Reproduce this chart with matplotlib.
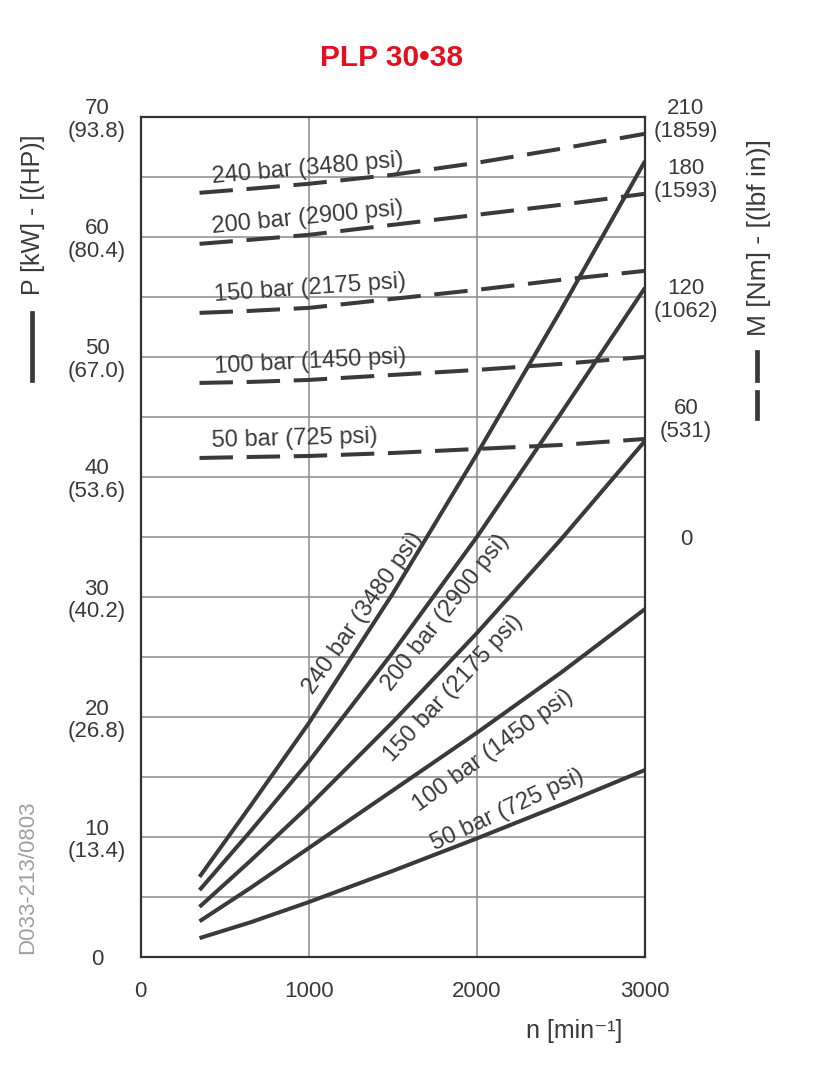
import matplotlib
matplotlib.use("Agg")
import matplotlib.pyplot as plt
from matplotlib.lines import Line2D

# ---------------- data ----------------
speed = [350, 650, 1000, 1500, 2000, 2500, 3000]          # n [min-1]
pressures = ["240 bar (3480 psi)", "200 bar (2900 psi)", "150 bar (2175 psi)",
             "100 bar (1450 psi)", "50 bar (725 psi)"]
# power P [kW]
power_240 = [6.7, 12.55, 19.5, 30.3, 41.9, 53.9, 66.3]
power_200 = [5.6, 10.45, 16.3, 25.4, 35.0, 45.3, 55.75]
power_150 = [4.2, 8.0, 12.6, 19.6, 27.0, 34.8, 43.0]
power_100 = [3.0, 5.75, 9.1, 13.9, 18.7, 23.7, 29.0]
power_50 = [1.6, 2.9, 4.6, 7.2, 9.9, 12.7, 15.6]
# torque M [Nm]
torque_240 = [172, 174, 176.5, 181, 187, 194, 201.5]
torque_200 = [146.5, 148.5, 151, 156, 161, 166, 171.5]
torque_150 = [112, 113, 114.5, 119, 123.5, 128.5, 133]
torque_100 = [77, 77.5, 78.5, 81, 83.5, 86.5, 90]
torque_50 = [39.5, 40, 40.5, 42, 44, 46, 49]

x_ticks = [0, 1000, 2000, 3000]
p_ticks = [0, 10, 20, 30, 40, 50, 60, 70]
p_labels = ["0", "10\n(13.4)", "20\n(26.8)", "30\n(40.2)", "40\n(53.6)",
            "50\n(67.0)", "60\n(80.4)", "70\n(93.8)"]
m_ticks = [0, 60, 120, 180, 210]
m_labels = ["0", "60\n(531)", "120\n(1062)", "180\n(1593)", "210\n(1859)"]

title = "PLP 30•38"
code = "D033-213/0803"

# ---------------- fonts ----------------
FAM = ["Liberation Sans", "DejaVu Sans"]
plt.rcParams["font.family"] = FAM

INK = "#3a3a3a"
GRID = "#8c8c8c"
FS = 16

fig = plt.figure(figsize=(8.36, 10.8), dpi=100)
ax = fig.add_axes([0.1683, 0.1136, 0.6032, 0.7783])
ax.set_xlim(0, 3000)
ax.set_ylim(0, 70)

# grid
ax.set_yticks(range(0, 75, 5))
ax.set_yticklabels([p_labels[p_ticks.index(v)] if v in p_ticks else "" for v in range(0, 75, 5)])
ax.set_xticks(x_ticks)
ax.set_xticklabels([str(v) for v in x_ticks])
ax.grid(True, color=GRID, lw=1.1, zorder=0)
ax.tick_params(axis="y", length=0, pad=31.5, labelsize=FS, colors=INK)
ax.tick_params(axis="x", length=0, pad=17, labelsize=FS, colors=INK)
for t in ax.get_yticklabels():
    t.set_ha("center")
    t.set_multialignment("center")
    t.set_linespacing(1.1)
for s in ax.spines.values():
    s.set_color("#333333")
    s.set_linewidth(1.6)
    s.set_zorder(5)

# power curves (solid)
powers = [power_240, power_200, power_150, power_100, power_50]
for pw in powers:
    ax.plot(speed, pw, color=INK, lw=2.9, solid_capstyle="butt",
            solid_joinstyle="round", zorder=3)

# torque curves on right axis (dashed)
ax2 = ax.twinx()
ax2.set_ylim(-210, 210)
ax2.set_yticks(m_ticks)
ax2.set_yticklabels(m_labels)
ax2.tick_params(axis="y", length=0, pad=29.5, labelsize=FS, colors=INK)
for t in ax2.get_yticklabels():
    t.set_ha("center")
    t.set_multialignment("center")
    t.set_linespacing(1.1)
for s in ax2.spines.values():
    s.set_visible(False)
torques = [torque_240, torque_200, torque_150, torque_100, torque_50]
for tq in torques:
    ax2.plot(speed, tq, color=INK, lw=2.9, linestyle=(0, (8.3, 3.4)),
             dash_capstyle="butt", zorder=3)

# labels on solid curves
solid_lab = [(1323, 28.7, 55), (1811, 28.7, 52), (1858, 22.4, 47),
             (2096, 17.2, 36), (2180, 12.3, 25)]
for txt, (xx, yy, rot) in zip(pressures, solid_lab):
    ax.text(xx, yy, txt, rotation=rot, rotation_mode="anchor", ha="center",
            va="center", fontsize=17, color=INK, zorder=4)

# labels on dashed curves
dash_lab = [(991, 65.7, 5), (991, 61.6, 5.5), (1009, 55.7, 4),
            (1009, 49.6, 3), (914, 43.2, 1.5)]
for txt, (xx, yy, rot) in zip(pressures, dash_lab):
    ax.text(xx, yy, txt, rotation=rot, rotation_mode="anchor", ha="center",
            va="center", fontsize=17, color=INK, zorder=4)

# title
fig.text(392 / 836, 1 - 58 / 1080, title, ha="center", va="center",
         fontsize=21.5, fontweight="bold", color="#e3101f")

# axis titles
fig.text(33 / 836, 1 - 215 / 1080, "P [kW] - [(HP)]", rotation=90, ha="center",
         va="center", fontsize=18, color=INK)
fig.add_artist(Line2D([32 / 836, 32 / 836], [1 - 313 / 1080, 1 - 380 / 1080],
                      color=INK, lw=3.4, transform=fig.transFigure))
fig.text(759 / 836, 1 - 238 / 1080, "M [Nm] - [(lbf in)]", rotation=90, ha="center",
         va="center", fontsize=19, color=INK)
fig.add_artist(Line2D([757 / 836, 757 / 836], [1 - 352 / 1080, 1 - 380 / 1080],
                      color=INK, lw=3.4, transform=fig.transFigure))
fig.add_artist(Line2D([757 / 836, 757 / 836], [1 - 392 / 1080, 1 - 418 / 1080],
                      color=INK, lw=3.4, transform=fig.transFigure))
fig.text(574 / 836, 1 - 1031 / 1080, "n [min⁻¹]", ha="center", va="center",
         fontsize=18, color=INK)

# drawing code
fig.text(28 / 836, 1 - 877 / 1080, code, rotation=90, ha="center", va="center",
         fontsize=16, color="#a0a0a0")

fig.savefig("out.png", dpi=100, facecolor="white")
